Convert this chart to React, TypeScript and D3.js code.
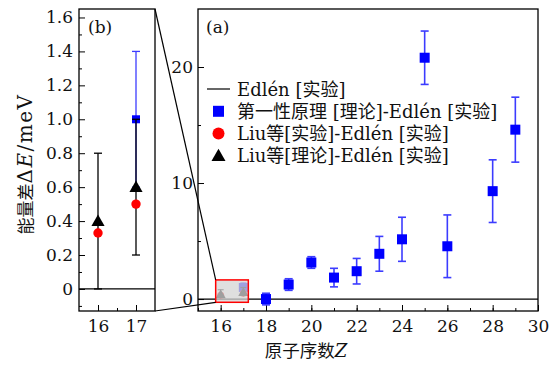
import React, { useEffect, useRef } from "react";
import * as d3 from "d3";

// atomic number Z, first-principles [theory] - Edlén [exp], meV
const zMain = [18, 19, 20, 21, 22, 23, 24, 25, 26, 28, 29];
const dftMain = [0.0, 1.25, 3.15, 1.85, 2.4, 3.9, 5.15, 20.8, 4.55, 9.3, 14.6];
const dftMainErr = [0.5, 0.5, 0.5, 0.8, 1.1, 1.5, 1.9, 2.3, 2.7, 2.7, 2.8];

// zoomed region (Z = 16, 17)
const zInset = [16, 17];
const dftInsetZ = [17];
const dftInset = [1.0];
const dftInsetErr = [0.4];
const liuExp = [0.33, 0.5];
const liuTheo = [0.4, 0.6];
const liuTheoErr = [0.4, 0.4];

const legendLabels = [
  "Edlén [实验]",
  "第一性原理 [理论]-Edlén [实验]",
  "Liu等[实验]-Edlén [实验]",
  "Liu等[理论]-Edlén [实验]",
];

const serif = "'DejaVu Serif', 'Noto Sans CJK SC', serif";

const App = () => {
  const svgRef = useRef<SVGSVGElement>(null);

  useEffect(() => {
    const svg = d3.select(svgRef.current);
    svg.selectAll("*").remove();

    // panel (a)
    const xa = d3.scaleLinear().domain([15, 30]).range([198, 538]);
    const ya = d3.scaleLinear().domain([-1.03, 25]).range([311, 9]);
    // panel (b)
    const xb = d3.scaleLinear().domain([15.5, 17.5]).range([79, 155]);
    const yb = d3.scaleLinear().domain([-0.13, 1.65]).range([311, 9]);

    const blue = "#0000ff";
    const blueErr = "#3c3cff";

    const tri = d3.symbol().type(d3.symbolTriangle);
    const sq = d3.symbol().type(d3.symbolSquare);

    const styleAxis = (g) => {
      g.select(".domain").remove();
      g.selectAll("line").attr("stroke", "#000").attr("stroke-width", 1);
      g.selectAll("text")
        .attr("font-family", serif)
        .attr("font-size", 17)
        .attr("fill", "#111");
    };

    // ---------- panel (a) ----------
    const a = svg.append("g");

    a.append("g")
      .attr("transform", "translate(0,311)")
      .call(d3.axisBottom(xa).tickValues(d3.range(15, 31, 1)).tickSize(-3).tickFormat(() => ""))
      .call(styleAxis);
    a.append("g")
      .attr("transform", "translate(0,311)")
      .call(d3.axisBottom(xa).tickValues(d3.range(16, 31, 2)).tickSize(-6).tickPadding(9).tickFormat(d3.format("d")))
      .call(styleAxis);
    a.append("g")
      .attr("transform", "translate(198,0)")
      .call(d3.axisLeft(ya).tickValues([5, 15]).tickSize(-3).tickFormat(() => ""))
      .call(styleAxis);
    a.append("g")
      .attr("transform", "translate(198,0)")
      .call(d3.axisLeft(ya).tickValues([0, 10, 20]).tickSize(-6).tickPadding(5).tickFormat(d3.format("d")))
      .call(styleAxis);

    // Edlén reference line
    a.append("line")
      .attr("x1", xa(15)).attr("x2", xa(30))
      .attr("y1", ya(0)).attr("y2", ya(0))
      .attr("stroke", "#000").attr("stroke-width", 1.3);

    // error bars
    const eb = a.append("g").attr("stroke", blueErr).attr("stroke-width", 1.6);
    zMain.forEach((z, i) => {
      const x = xa(z);
      const y0 = ya(dftMain[i] - dftMainErr[i]);
      const y1 = ya(dftMain[i] + dftMainErr[i]);
      eb.append("line").attr("x1", x).attr("x2", x).attr("y1", y0).attr("y2", y1);
      eb.append("line").attr("x1", x - 4).attr("x2", x + 4).attr("y1", y0).attr("y2", y0);
      eb.append("line").attr("x1", x - 4).attr("x2", x + 4).attr("y1", y1).attr("y2", y1);
    });
    a.selectAll(".sqa")
      .data(zMain)
      .enter()
      .append("rect")
      .attr("x", (d) => xa(d) - 5)
      .attr("y", (d, i) => ya(dftMain[i]) - 5)
      .attr("width", 10)
      .attr("height", 10)
      .attr("fill", blue);

    // small copies of the Z=16,17 points
    const small = a.append("g");
    dftInsetZ.forEach((z, i) => {
      const x = xa(z);
      const y0 = ya(dftInset[i] - dftInsetErr[i]);
      const y1 = ya(dftInset[i] + dftInsetErr[i]);
      small.append("line").attr("x1", x).attr("x2", x).attr("y1", y0).attr("y2", y1).attr("stroke", blueErr);
      small.append("line").attr("x1", x - 3).attr("x2", x + 3).attr("y1", y1).attr("y2", y1).attr("stroke", blueErr);
      small.append("rect").attr("x", x - 4.5).attr("y", ya(dftInset[i]) - 4.5).attr("width", 9).attr("height", 9).attr("fill", blue);
    });
    zInset.forEach((z, i) => {
      const x = xa(z);
      const y0 = ya(liuTheo[i] - liuTheoErr[i]);
      const y1 = ya(liuTheo[i] + liuTheoErr[i]);
      small.append("line").attr("x1", x).attr("x2", x).attr("y1", y0).attr("y2", y1).attr("stroke", "#000");
      small.append("line").attr("x1", x - 3).attr("x2", x + 3).attr("y1", y1).attr("y2", y1).attr("stroke", "#000");
      small.append("circle").attr("cx", x).attr("cy", ya(liuExp[i])).attr("r", 3.5).attr("fill", "#ff0000");
      small.append("path").attr("d", tri.size(45)()).attr("transform", `translate(${x},${ya(liuTheo[i]) + 1})`).attr("fill", "#000");
    });

    // zoom box
    const bx0 = xa(15.78), bx1 = xa(17.22);
    const by0 = ya(1.65), by1 = ya(-0.28);
    a.append("rect")
      .attr("x", bx0).attr("y", by0)
      .attr("width", bx1 - bx0).attr("height", by1 - by0)
      .attr("fill", "#d4d4d4").attr("fill-opacity", 0.75)
      .attr("stroke", "#ff0000").attr("stroke-width", 1.5);

    a.append("rect")
      .attr("x", 198).attr("y", 9).attr("width", 340).attr("height", 302)
      .attr("fill", "none").attr("stroke", "#000").attr("stroke-width", 1.3);

    a.append("text")
      .attr("x", 206).attr("y", 33)
      .attr("font-family", serif).attr("font-size", 17)
      .attr("fill", "#111")
      .text("(a)");

    // legend
    const lg = a.append("g").attr("font-family", serif).attr("font-size", 18);
    legendLabels.forEach((t, i) => {
      const y = 89 + i * 22.3;
      if (i === 0) lg.append("line").attr("x1", 207).attr("x2", 230).attr("y1", y).attr("y2", y).attr("stroke", "#000").attr("stroke-width", 1.2);
      if (i === 1) lg.append("path").attr("d", sq.size(121)()).attr("transform", `translate(218.5,${y})`).attr("fill", blue);
      if (i === 2) lg.append("circle").attr("cx", 218.5).attr("cy", y).attr("r", 6).attr("fill", "#ff0000");
      if (i === 3) lg.append("path").attr("d", tri.size(85)()).attr("transform", `translate(218.5,${y + 1})`).attr("fill", "#000");
      lg.append("text").attr("x", 237).attr("y", y + 6.5).attr("fill", "#111").text(t);
    });

    // ---------- panel (b) ----------
    const b = svg.append("g");
    b.append("g")
      .attr("transform", "translate(0,311)")
      .call(d3.axisBottom(xb).tickValues([16.5]).tickSize(-3).tickFormat(() => ""))
      .call(styleAxis);
    b.append("g")
      .attr("transform", "translate(0,311)")
      .call(d3.axisBottom(xb).tickValues([16, 17]).tickSize(-6).tickPadding(9).tickFormat(d3.format("d")))
      .call(styleAxis);
    b.append("g")
      .attr("transform", "translate(79,0)")
      .call(d3.axisLeft(yb).tickValues(d3.range(-0.1, 1.65, 0.2)).tickSize(-3).tickFormat(() => ""))
      .call(styleAxis);
    b.append("g")
      .attr("transform", "translate(79,0)")
      .call(
        d3.axisLeft(yb)
          .tickValues(d3.range(0, 1.61, 0.2))
          .tickSize(-6)
          .tickPadding(6)
          .tickFormat((d) => (Math.abs(+d) < 1e-9 ? "0" : d3.format(".1f")(d)))
      )
      .call(styleAxis);

    b.append("line")
      .attr("x1", xb(15.5)).attr("x2", xb(17.5))
      .attr("y1", yb(0)).attr("y2", yb(0))
      .attr("stroke", "#000").attr("stroke-width", 1.3);

    dftInsetZ.forEach((z, i) => {
      const x = xb(z);
      const y0 = yb(dftInset[i] - dftInsetErr[i]);
      const y1 = yb(dftInset[i] + dftInsetErr[i]);
      b.append("line").attr("x1", x).attr("x2", x).attr("y1", y0).attr("y2", y1).attr("stroke", blueErr).attr("stroke-width", 1.3);
      b.append("line").attr("x1", x - 4).attr("x2", x + 4).attr("y1", y1).attr("y2", y1).attr("stroke", blueErr).attr("stroke-width", 1.3);
      b.append("line").attr("x1", x - 4).attr("x2", x + 4).attr("y1", y0).attr("y2", y0).attr("stroke", blueErr).attr("stroke-width", 1.3);
      b.append("rect").attr("x", x - 4).attr("y", yb(dftInset[i]) - 4).attr("width", 8).attr("height", 8).attr("fill", blue);
    });
    zInset.forEach((z, i) => {
      const x = xb(z);
      const y0 = yb(liuTheo[i] - liuTheoErr[i]);
      const y1 = yb(liuTheo[i] + liuTheoErr[i]);
      b.append("line").attr("x1", x).attr("x2", x).attr("y1", y0).attr("y2", y1).attr("stroke", "#000").attr("stroke-width", 1.3);
      b.append("line").attr("x1", x - 4).attr("x2", x + 4).attr("y1", y1).attr("y2", y1).attr("stroke", "#000").attr("stroke-width", 1.3);
      b.append("line").attr("x1", x - 4).attr("x2", x + 4).attr("y1", y0).attr("y2", y0).attr("stroke", "#000").attr("stroke-width", 1.3);
      b.append("circle").attr("cx", x).attr("cy", yb(liuExp[i])).attr("r", 4.7).attr("fill", "#ff0000");
      b.append("path").attr("d", tri.size(75)()).attr("transform", `translate(${x},${yb(liuTheo[i]) + 1})`).attr("fill", "#000");
    });

    b.append("rect")
      .attr("x", 79).attr("y", 9).attr("width", 76).attr("height", 302)
      .attr("fill", "none").attr("stroke", "#000").attr("stroke-width", 1.3);

    b.append("text")
      .attr("x", 88).attr("y", 33)
      .attr("font-family", serif).attr("font-size", 17)
      .attr("fill", "#111")
      .text("(b)");

    // connector lines from panel (b) to zoom box
    svg.append("line").attr("x1", 155).attr("y1", 9).attr("x2", bx0).attr("y2", by0).attr("stroke", "#000").attr("stroke-width", 1.2);
    svg.append("line").attr("x1", 155).attr("y1", 311).attr("x2", bx0).attr("y2", by1).attr("stroke", "#000").attr("stroke-width", 1.2);

    // axis titles
    const yl = svg.append("text")
      .attr("transform", "translate(32,164) rotate(-90)")
      .attr("text-anchor", "middle")
      .attr("font-family", serif)
      .attr("font-size", 17)
      .attr("fill", "#111");
    yl.append("tspan").text("能量差");
    yl.append("tspan").attr("font-size", 20).attr("letter-spacing", 1.5).text("Δ");
    yl.append("tspan").attr("font-style", "italic").attr("font-size", 20).attr("letter-spacing", 1.5).text("E");
    yl.append("tspan").attr("font-size", 20).attr("letter-spacing", 1.5).text("/meV");

    const xl = svg.append("text")
      .attr("x", 306).attr("y", 357)
      .attr("text-anchor", "middle")
      .attr("font-family", serif)
      .attr("font-size", 17.5)
      .attr("fill", "#111");
    xl.append("tspan").text("原子序数");
    xl.append("tspan").attr("font-style", "italic").attr("font-size", 18).text("Z");
  }, []);

  return (
    <svg
      ref={svgRef}
      width={550}
      height={367}
      style={{ position: "absolute", left: 0, top: 0, background: "#fff" }}
    ></svg>
  );
};

export default App;
